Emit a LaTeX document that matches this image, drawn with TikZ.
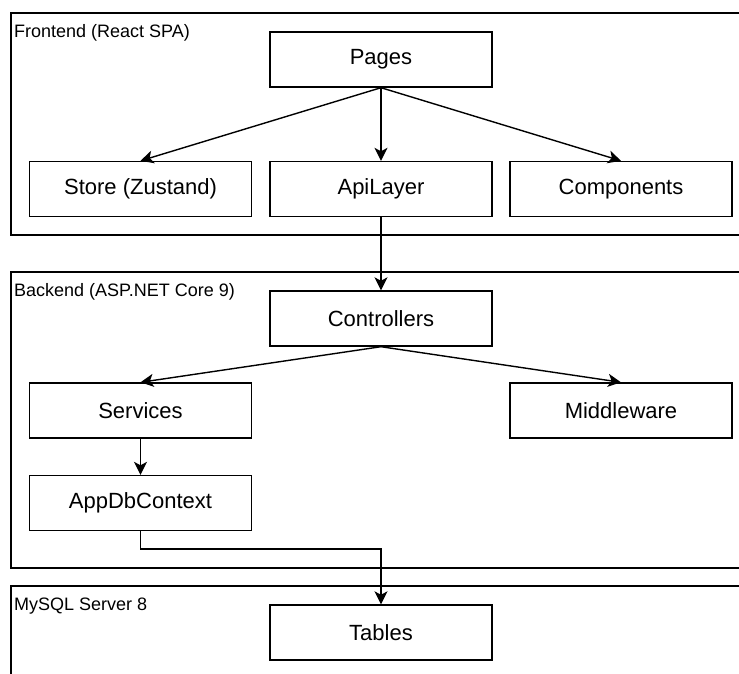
\documentclass[tikz,border=0pt]{standalone}
\usepackage{fontspec}
\setmainfont{Liberation Sans}
\usetikzlibrary{arrows.meta}
\begin{document}
\begin{tikzpicture}[x=1pt,y=-1pt,
  box/.style={draw=black,line width=1.4pt,minimum width=222pt,minimum height=55pt,inner sep=0pt,font=\fontsize{22}{26}\selectfont,fill=white},
  group/.style={draw=black,line width=1.4pt},
  grouplabel/.style={anchor=west,inner sep=0pt,font=\fontsize{18}{22}\selectfont},
  conn/.style={line width=1.4pt,-{Stealth[length=13pt,width=13pt,inset=3.5pt]}}
]
\useasboundingbox[fill=white] (0,0) rectangle (739,673);
% containers
\draw[group] (760,13) -- (11,13) -- (11,235) -- (760,235);
\draw[group] (760,272) -- (11,272) -- (11,568) -- (760,568);
\draw[group] (760,586) -- (11,586) -- (11,690);
\node[grouplabel] (lfront) at (14,33) {Frontend (React SPA)};
\node[grouplabel] (lback) at (14,292) {Backend (ASP.NET Core 9)};
\node[grouplabel] (ldb) at (14,606) {MySQL Server 8};
% nodes
\node[box] (pages) at (381,59.5) {Pages};
\node[box] (store) at (140.5,189) {Store (Zustand)};
\node[box] (api) at (381,189) {ApiLayer};
\node[box] (comp) at (621,189) {Components};
\node[box] (ctrl) at (381,318.5) {Controllers};
\node[box] (serv) at (140.5,410.5) {Services};
\node[box] (mid) at (621,410.5) {Middleware};
\node[box] (app) at (140.5,503) {AppDbContext};
\node[box] (tables) at (381,632.5) {Tables};
% connectors
\draw[conn] (pages.south) -- (store.north);
\draw[conn] (pages.south) -- (api.north);
\draw[conn] (pages.south) -- (comp.north);
\draw[conn] (api.south) -- (ctrl.north);
\draw[conn] (ctrl.south) -- (serv.north);
\draw[conn] (ctrl.south) -- (mid.north);
\draw[conn] (serv.south) -- (app.north);
\coordinate (bend) at (140.5,549);
\draw[conn] (app.south) -- (bend) -| (tables.north);
\end{tikzpicture}
\end{document}
